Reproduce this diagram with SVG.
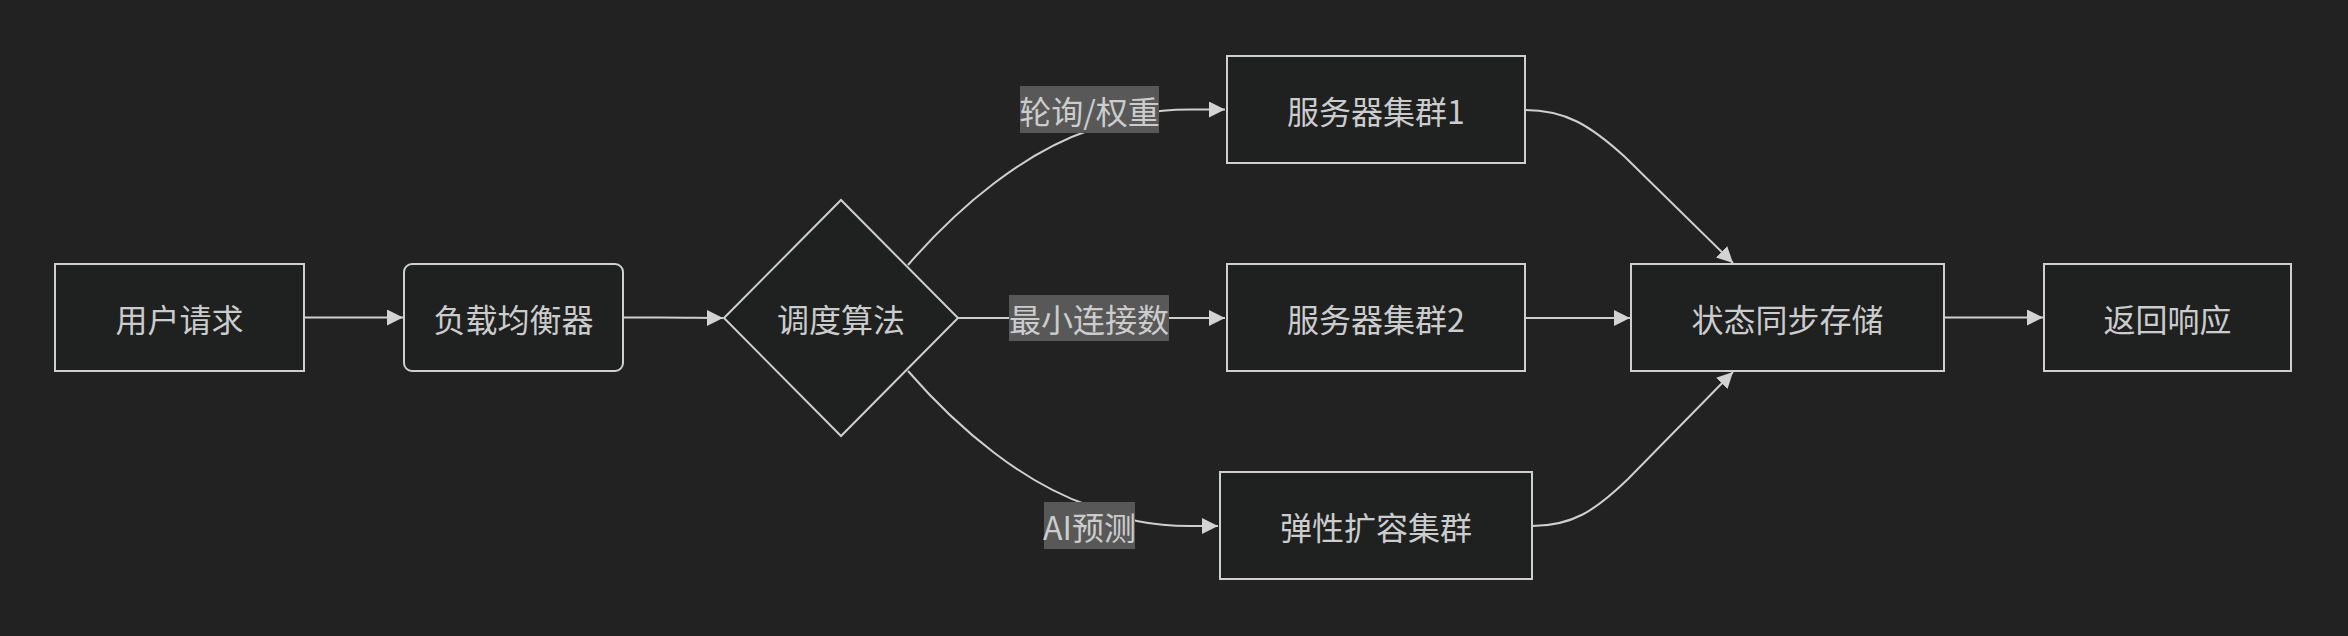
<svg xmlns="http://www.w3.org/2000/svg" width="2348" height="636" viewBox="0 0 2348 636">
<style>
.node rect, .node polygon { fill: #1f2020; stroke: #cfcfcf; stroke-width: 2; }
.node text, .lbl text { font-family: "Noto Sans CJK SC", "Noto Sans", sans-serif; font-size: 32px; fill: #cccccc; text-anchor: middle; dominant-baseline: central; }
.edges path { fill: none; stroke: #cfcfcf; stroke-width: 2; }
.lbl rect { fill: #585858; }
</style>
<defs>
<marker id="arrow" markerUnits="userSpaceOnUse" markerWidth="16" markerHeight="16" refX="16" refY="8" orient="auto">
<path d="M0,0 L16,8 L0,16 z" fill="#d3d3d3"/>
</marker>
</defs>
<rect width="2348" height="636" fill="#222222"/>

<g id="connectors" class="edges">
<path d="M304,317.5 L403,317.5" marker-end="url(#arrow)"/>
<path d="M623,317.5 L660,317.5 C690,317.5 700,318 723,318" marker-end="url(#arrow)"/>
<path d="M908,265 C960,205 1025,152 1090,130 C1125,116 1150,109.5 1190,109.5 L1225,109.5" marker-end="url(#arrow)"/>
<path d="M958,318 L1225,318" marker-end="url(#arrow)"/>
<path d="M908,371 C960,431 1025,484 1090,506 C1125,520 1150,526 1190,526 L1218,526" marker-end="url(#arrow)"/>
<path d="M1525,110 C1565,110 1590,125 1625,157 L1733,263" marker-end="url(#arrow)"/>
<path d="M1525,318 L1630,318" marker-end="url(#arrow)"/>
<path d="M1532,526 C1572,526 1595,511 1628,479 L1733,372" marker-end="url(#arrow)"/>
<path d="M1944,317.5 L2043,317.5" marker-end="url(#arrow)"/>
</g>

<g id="label-1" class="lbl"><rect x="1020" y="86" width="139" height="47"/><text x="1089.5" y="109.5">轮询/权重</text></g>
<g id="label-2" class="lbl"><rect x="1009" y="295" width="160" height="46"/><text x="1089" y="318">最小连接数</text></g>
<g id="label-3" class="lbl"><rect x="1044" y="502" width="91" height="47"/><text x="1089.5" y="525.5">AI预测</text></g>

<g id="user" class="node"><rect x="55" y="264" width="249" height="107"/><text x="179.5" y="317.5">用户请求</text></g>
<g id="lb" class="node"><rect x="404" y="264" width="219" height="107" rx="8" ry="8"/><text x="513.5" y="317.5">负载均衡器</text></g>
<g id="algo" class="node"><polygon points="724,318 841,200 958,318 841,436"/><text x="841" y="318">调度算法</text></g>
<g id="cluster1" class="node"><rect x="1227" y="56" width="298" height="107"/><text x="1376" y="109.5">服务器集群1</text></g>
<g id="cluster2" class="node"><rect x="1227" y="264" width="298" height="107"/><text x="1376" y="317.5">服务器集群2</text></g>
<g id="elastic" class="node"><rect x="1220" y="472" width="312" height="107"/><text x="1376" y="525.5">弹性扩容集群</text></g>
<g id="state" class="node"><rect x="1631" y="264" width="313" height="107"/><text x="1787.5" y="317.5">状态同步存储</text></g>
<g id="resp" class="node"><rect x="2044" y="264" width="247" height="107"/><text x="2167.5" y="317.5">返回响应</text></g>
</svg>
